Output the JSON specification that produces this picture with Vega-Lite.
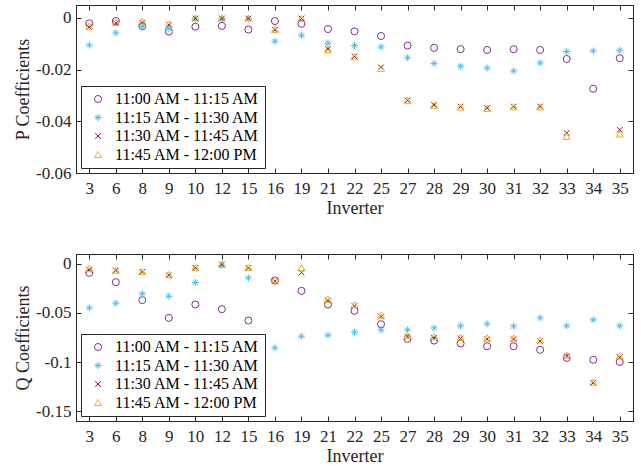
{
  "$schema": "https://vega.github.io/schema/vega-lite/v6.json",
  "padding": {"left": 14, "top": 4, "right": 5, "bottom": 0},
  "config": {
    "font": "Liberation Serif",
    "view": {"stroke": "#262626"},
    "axis": {"labelFont": "Liberation Serif", "titleFont": "Liberation Serif", "labelFontSize": 17, "titleFontSize": 18, "titleFontWeight": "normal", "labelColor": "#262626", "titleColor": "#262626", "domainColor": "#262626", "tickColor": "#262626", "tickSize": -5, "grid": false},
    "legend": {"labelFont": "Liberation Serif", "labelFontSize": 16, "labelColor": "#000000", "labelLimit": 300},
    "concat": {"spacing": 35}
  },
  "resolve": {"scale": {"color": "independent", "shape": "independent"}, "legend": {"color": "independent", "shape": "independent"}},
  "datasets": {
    "P": [
      {"inv": 3, "11:00 AM - 11:15 AM": -0.0021, "11:15 AM - 11:30 AM": -0.0105, "11:30 AM - 11:45 AM": -0.0036, "11:45 AM - 12:00 PM": -0.0031},
      {"inv": 6, "11:00 AM - 11:15 AM": -0.0012, "11:15 AM - 11:30 AM": -0.0058, "11:30 AM - 11:45 AM": -0.002, "11:45 AM - 12:00 PM": -0.0017},
      {"inv": 8, "11:00 AM - 11:15 AM": -0.0032, "11:15 AM - 11:30 AM": -0.0034, "11:30 AM - 11:45 AM": -0.0018, "11:45 AM - 12:00 PM": -0.0012},
      {"inv": 9, "11:00 AM - 11:15 AM": -0.0053, "11:15 AM - 11:30 AM": -0.0041, "11:30 AM - 11:45 AM": -0.0027, "11:45 AM - 12:00 PM": -0.0025},
      {"inv": 10, "11:00 AM - 11:15 AM": -0.0034, "11:15 AM - 11:30 AM": -0.0003, "11:30 AM - 11:45 AM": -0.0002, "11:45 AM - 12:00 PM": 0},
      {"inv": 12, "11:00 AM - 11:15 AM": -0.0031, "11:15 AM - 11:30 AM": -0.0002, "11:30 AM - 11:45 AM": -0.0002, "11:45 AM - 12:00 PM": 0},
      {"inv": 15, "11:00 AM - 11:15 AM": -0.0045, "11:15 AM - 11:30 AM": -0.0002, "11:30 AM - 11:45 AM": -0.0002, "11:45 AM - 12:00 PM": 0},
      {"inv": 16, "11:00 AM - 11:15 AM": -0.0012, "11:15 AM - 11:30 AM": -0.009, "11:30 AM - 11:45 AM": -0.0046, "11:45 AM - 12:00 PM": -0.0044},
      {"inv": 19, "11:00 AM - 11:15 AM": -0.0023, "11:15 AM - 11:30 AM": -0.0067, "11:30 AM - 11:45 AM": -0.0002, "11:45 AM - 12:00 PM": -0.0001},
      {"inv": 21, "11:00 AM - 11:15 AM": -0.0043, "11:15 AM - 11:30 AM": -0.0098, "11:30 AM - 11:45 AM": -0.012, "11:45 AM - 12:00 PM": -0.0122},
      {"inv": 22, "11:00 AM - 11:15 AM": -0.0052, "11:15 AM - 11:30 AM": -0.0107, "11:30 AM - 11:45 AM": -0.0149, "11:45 AM - 12:00 PM": -0.015},
      {"inv": 25, "11:00 AM - 11:15 AM": -0.007, "11:15 AM - 11:30 AM": -0.0112, "11:30 AM - 11:45 AM": -0.0191, "11:45 AM - 12:00 PM": -0.0195},
      {"inv": 27, "11:00 AM - 11:15 AM": -0.0107, "11:15 AM - 11:30 AM": -0.0154, "11:30 AM - 11:45 AM": -0.0319, "11:45 AM - 12:00 PM": -0.032},
      {"inv": 28, "11:00 AM - 11:15 AM": -0.0116, "11:15 AM - 11:30 AM": -0.0176, "11:30 AM - 11:45 AM": -0.0337, "11:45 AM - 12:00 PM": -0.0338},
      {"inv": 29, "11:00 AM - 11:15 AM": -0.0121, "11:15 AM - 11:30 AM": -0.0187, "11:30 AM - 11:45 AM": -0.0343, "11:45 AM - 12:00 PM": -0.0345},
      {"inv": 30, "11:00 AM - 11:15 AM": -0.0124, "11:15 AM - 11:30 AM": -0.0194, "11:30 AM - 11:45 AM": -0.0348, "11:45 AM - 12:00 PM": -0.035},
      {"inv": 31, "11:00 AM - 11:15 AM": -0.0121, "11:15 AM - 11:30 AM": -0.0205, "11:30 AM - 11:45 AM": -0.0343, "11:45 AM - 12:00 PM": -0.0344},
      {"inv": 32, "11:00 AM - 11:15 AM": -0.0124, "11:15 AM - 11:30 AM": -0.0174, "11:30 AM - 11:45 AM": -0.0343, "11:45 AM - 12:00 PM": -0.0344},
      {"inv": 33, "11:00 AM - 11:15 AM": -0.0159, "11:15 AM - 11:30 AM": -0.013, "11:30 AM - 11:45 AM": -0.0445, "11:45 AM - 12:00 PM": -0.0458},
      {"inv": 34, "11:00 AM - 11:15 AM": -0.0274, "11:15 AM - 11:30 AM": -0.0128, "11:30 AM - 11:45 AM": null, "11:45 AM - 12:00 PM": null},
      {"inv": 35, "11:00 AM - 11:15 AM": -0.0156, "11:15 AM - 11:30 AM": -0.0125, "11:30 AM - 11:45 AM": -0.0433, "11:45 AM - 12:00 PM": -0.0449}
    ],
    "Q": [
      {"inv": 3, "11:00 AM - 11:15 AM": -0.0092, "11:15 AM - 11:30 AM": -0.0448, "11:30 AM - 11:45 AM": -0.0061, "11:45 AM - 12:00 PM": -0.0048},
      {"inv": 6, "11:00 AM - 11:15 AM": -0.0187, "11:15 AM - 11:30 AM": -0.0401, "11:30 AM - 11:45 AM": -0.0068, "11:45 AM - 12:00 PM": -0.0065},
      {"inv": 8, "11:00 AM - 11:15 AM": -0.037, "11:15 AM - 11:30 AM": -0.0305, "11:30 AM - 11:45 AM": -0.0081, "11:45 AM - 12:00 PM": -0.0078},
      {"inv": 9, "11:00 AM - 11:15 AM": -0.055, "11:15 AM - 11:30 AM": -0.033, "11:30 AM - 11:45 AM": -0.0116, "11:45 AM - 12:00 PM": -0.011},
      {"inv": 10, "11:00 AM - 11:15 AM": -0.0414, "11:15 AM - 11:30 AM": -0.019, "11:30 AM - 11:45 AM": -0.0041, "11:45 AM - 12:00 PM": -0.0038},
      {"inv": 12, "11:00 AM - 11:15 AM": -0.0462, "11:15 AM - 11:30 AM": -0.0017, "11:30 AM - 11:45 AM": -0.0007, "11:45 AM - 12:00 PM": -0.0003},
      {"inv": 15, "11:00 AM - 11:15 AM": -0.0577, "11:15 AM - 11:30 AM": -0.0143, "11:30 AM - 11:45 AM": -0.0041, "11:45 AM - 12:00 PM": -0.0038},
      {"inv": 16, "11:00 AM - 11:15 AM": -0.017, "11:15 AM - 11:30 AM": -0.0855, "11:30 AM - 11:45 AM": -0.0177, "11:45 AM - 12:00 PM": -0.0163},
      {"inv": 19, "11:00 AM - 11:15 AM": -0.0275, "11:15 AM - 11:30 AM": -0.0737, "11:30 AM - 11:45 AM": -0.0089, "11:45 AM - 12:00 PM": -0.0041},
      {"inv": 21, "11:00 AM - 11:15 AM": -0.0414, "11:15 AM - 11:30 AM": -0.0727, "11:30 AM - 11:45 AM": -0.0374, "11:45 AM - 12:00 PM": -0.036},
      {"inv": 22, "11:00 AM - 11:15 AM": -0.0478, "11:15 AM - 11:30 AM": -0.0696, "11:30 AM - 11:45 AM": -0.043, "11:45 AM - 12:00 PM": -0.0414},
      {"inv": 25, "11:00 AM - 11:15 AM": -0.0615, "11:15 AM - 11:30 AM": -0.0672, "11:30 AM - 11:45 AM": -0.0536, "11:45 AM - 12:00 PM": -0.0522},
      {"inv": 27, "11:00 AM - 11:15 AM": -0.0764, "11:15 AM - 11:30 AM": -0.0672, "11:30 AM - 11:45 AM": -0.0743, "11:45 AM - 12:00 PM": -0.073},
      {"inv": 28, "11:00 AM - 11:15 AM": -0.0781, "11:15 AM - 11:30 AM": -0.0652, "11:30 AM - 11:45 AM": -0.0754, "11:45 AM - 12:00 PM": -0.074},
      {"inv": 29, "11:00 AM - 11:15 AM": -0.0811, "11:15 AM - 11:30 AM": -0.0631, "11:30 AM - 11:45 AM": -0.076, "11:45 AM - 12:00 PM": -0.0747},
      {"inv": 30, "11:00 AM - 11:15 AM": -0.0839, "11:15 AM - 11:30 AM": -0.0611, "11:30 AM - 11:45 AM": -0.0767, "11:45 AM - 12:00 PM": -0.0754},
      {"inv": 31, "11:00 AM - 11:15 AM": -0.0839, "11:15 AM - 11:30 AM": -0.0634, "11:30 AM - 11:45 AM": -0.0767, "11:45 AM - 12:00 PM": -0.0754},
      {"inv": 32, "11:00 AM - 11:15 AM": -0.0876, "11:15 AM - 11:30 AM": -0.055, "11:30 AM - 11:45 AM": -0.0787, "11:45 AM - 12:00 PM": -0.0774},
      {"inv": 33, "11:00 AM - 11:15 AM": -0.0957, "11:15 AM - 11:30 AM": -0.0631, "11:30 AM - 11:45 AM": -0.094, "11:45 AM - 12:00 PM": -0.0927},
      {"inv": 34, "11:00 AM - 11:15 AM": -0.0977, "11:15 AM - 11:30 AM": -0.057, "11:30 AM - 11:45 AM": -0.1211, "11:45 AM - 12:00 PM": -0.1205},
      {"inv": 35, "11:00 AM - 11:15 AM": -0.0998, "11:15 AM - 11:30 AM": -0.0631, "11:30 AM - 11:45 AM": -0.0951, "11:45 AM - 12:00 PM": -0.0937}
    ]
  },
  "vconcat": [
    {
      "width": 557,
      "height": 168,
      "data": {"name": "P"},
      "transform": [{"fold": ["11:00 AM - 11:15 AM", "11:15 AM - 11:30 AM", "11:30 AM - 11:45 AM", "11:45 AM - 12:00 PM"], "as": ["series", "val"]}],
      "layer": [
        {
          "mark": {"type": "point", "filled": false, "size": 50, "strokeWidth": 1, "opacity": 1},
          "encoding": {
            "x": {"field": "inv", "type": "ordinal", "axis": {"orient": "bottom", "labelAngle": 0, "title": "Inverter", "labelPadding": 12, "titlePadding": 3}},
            "y": {"field": "val", "type": "quantitative", "scale": {"domain": [-0.06, 0.005], "nice": false, "zero": false}, "axis": {"orient": "left", "values": [0, -0.02, -0.04, -0.06], "labelExpr": "replace(format(datum.value, '~g'), '−', '-')", "title": "P Coefficients", "labelPadding": 10, "titlePadding": 3}},
            "color": {"field": "series", "type": "nominal", "scale": {"domain": ["11:00 AM - 11:15 AM", "11:15 AM - 11:30 AM", "11:30 AM - 11:45 AM", "11:45 AM - 12:00 PM"], "range": ["#7E2F8E", "#4DBEEE", "#A2142F", "#EDB120"]}, "legend": {"title": null, "orient": "bottom-left", "offset": 5, "strokeColor": "#262626", "fillColor": "white", "padding": 5, "rowPadding": 2.5, "labelOffset": 9, "symbolSize": 50, "symbolStrokeWidth": 1, "symbolOffset": 4}},
            "shape": {"field": "series", "type": "nominal", "scale": {"domain": ["11:00 AM - 11:15 AM", "11:15 AM - 11:30 AM", "11:30 AM - 11:45 AM", "11:45 AM - 12:00 PM"], "range": ["circle", "M-1,0L1,0M0,-1L0,1M-0.7,-0.7L0.7,0.7M-0.7,0.7L0.7,-0.7", "M-0.8,-0.8L0.8,0.8M-0.8,0.8L0.8,-0.8", "triangle-up"]}, "legend": {"title": null}}
          }
        },
        {
          "mark": {"type": "point", "opacity": 0},
          "encoding": {
            "x": {"field": "inv", "type": "ordinal", "axis": {"orient": "top", "labels": false, "title": null}},
            "y": {"field": "val", "type": "quantitative", "scale": {"domain": [-0.06, 0.005], "nice": false, "zero": false}, "axis": {"orient": "right", "labels": false, "title": null, "values": [0, -0.02, -0.04, -0.06]}}
          }
        }
      ],
      "resolve": {"axis": {"x": "independent", "y": "independent"}}
    },
    {
      "width": 557,
      "height": 167,
      "data": {"name": "Q"},
      "transform": [{"fold": ["11:00 AM - 11:15 AM", "11:15 AM - 11:30 AM", "11:30 AM - 11:45 AM", "11:45 AM - 12:00 PM"], "as": ["series", "val"]}],
      "layer": [
        {
          "mark": {"type": "point", "filled": false, "size": 50, "strokeWidth": 1, "opacity": 1},
          "encoding": {
            "x": {"field": "inv", "type": "ordinal", "axis": {"orient": "bottom", "labelAngle": 0, "title": "Inverter", "labelPadding": 12, "titlePadding": 3}},
            "y": {"field": "val", "type": "quantitative", "scale": {"domain": [-0.16, 0.01], "nice": false, "zero": false}, "axis": {"orient": "left", "values": [0, -0.05, -0.1, -0.15], "labelExpr": "replace(format(datum.value, '~g'), '−', '-')", "title": "Q Coefficients", "labelPadding": 10, "titlePadding": 3}},
            "color": {"field": "series", "type": "nominal", "scale": {"domain": ["11:00 AM - 11:15 AM", "11:15 AM - 11:30 AM", "11:30 AM - 11:45 AM", "11:45 AM - 12:00 PM"], "range": ["#7E2F8E", "#4DBEEE", "#A2142F", "#EDB120"]}, "legend": {"title": null, "orient": "bottom-left", "offset": 5, "strokeColor": "#262626", "fillColor": "white", "padding": 5, "rowPadding": 2.5, "labelOffset": 9, "symbolSize": 50, "symbolStrokeWidth": 1, "symbolOffset": 4}},
            "shape": {"field": "series", "type": "nominal", "scale": {"domain": ["11:00 AM - 11:15 AM", "11:15 AM - 11:30 AM", "11:30 AM - 11:45 AM", "11:45 AM - 12:00 PM"], "range": ["circle", "M-1,0L1,0M0,-1L0,1M-0.7,-0.7L0.7,0.7M-0.7,0.7L0.7,-0.7", "M-0.8,-0.8L0.8,0.8M-0.8,0.8L0.8,-0.8", "triangle-up"]}, "legend": {"title": null}}
          }
        },
        {
          "mark": {"type": "point", "opacity": 0},
          "encoding": {
            "x": {"field": "inv", "type": "ordinal", "axis": {"orient": "top", "labels": false, "title": null}},
            "y": {"field": "val", "type": "quantitative", "scale": {"domain": [-0.16, 0.01], "nice": false, "zero": false}, "axis": {"orient": "right", "labels": false, "title": null, "values": [0, -0.05, -0.1, -0.15]}}
          }
        }
      ],
      "resolve": {"axis": {"x": "independent", "y": "independent"}}
    }
  ]
}
